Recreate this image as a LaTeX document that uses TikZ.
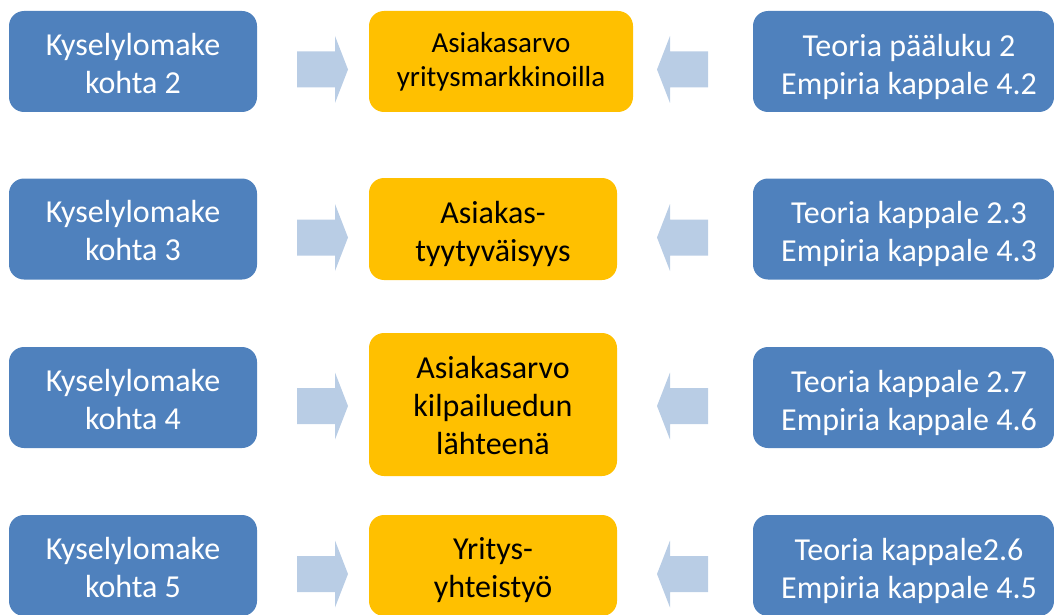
\documentclass[tikz,border=0pt]{standalone}
\usepackage{fontspec}
\setmainfont{Carlito}
\definecolor{boxblue}{HTML}{4F81BD}
\definecolor{boxgold}{HTML}{FFC000}
\definecolor{flowblue}{HTML}{B9CDE5}
\tikzset{
  boxbase/.style={rounded corners=15pt, inner sep=0pt},
  srcbox/.style={boxbase, fill=boxblue, minimum width=248pt, minimum height=101pt},
  refbox/.style={boxbase, fill=boxblue, minimum width=301pt, minimum height=101pt},
  topicbox/.style={boxbase, fill=boxgold},
  boxtext/.style={inner sep=0pt, align=center, font=\fontsize{32}{38}\selectfont},
  whitetext/.style={boxtext, text=white},
  blacktext/.style={boxtext, text=black},
  pics/flowright/.style={code={
    \fill[flowblue] (0,-18) -- (38,-18) -- (38,-33.5) -- (51,0)
      -- (38,33.5) -- (38,18) -- (0,18) -- cycle;}},
  pics/flowleft/.style={code={
    \fill[flowblue] (51,-18) -- (13,-18) -- (13,-33.5) -- (0,0)
      -- (13,33.5) -- (13,18) -- (51,18) -- cycle;}},
}
\begin{document}
\begin{tikzpicture}[x=1pt,y=-1pt]
\useasboundingbox (0,0) rectangle (1054,615);
\clip (0,0) rectangle (1054,615);

% questionnaire items
\node[srcbox] (q2) at (133,61.5) {};
\node[srcbox] (q3) at (133,229) {};
\node[srcbox] (q4) at (133,397.5) {};
\node[srcbox] (q5) at (133,565.5) {};
\node[whitetext] (q2t) at (133,63.5) {Kyselylomake\\kohta 2};
\node[whitetext] (q3t) at (133,231) {Kyselylomake\\kohta 3};
\node[whitetext] (q4t) at (133,399.5) {Kyselylomake\\kohta 4};
\node[whitetext] (q5t) at (133,567.5) {Kyselylomake\\kohta 5};

% topics
\node[topicbox, minimum width=264pt, minimum height=101pt] (t1) at (501,61.5) {};
\node[topicbox, minimum width=248pt, minimum height=102pt] (t2) at (493,229) {};
\node[topicbox, minimum width=248pt, minimum height=143pt] (t3) at (493,404.5) {};
\node[topicbox, minimum width=248pt, minimum height=101pt] (t4) at (493,565.5) {};
\node[blacktext, font=\fontsize{29}{34}\selectfont] (t1t) at (501,62)
  {Asiakasarvo\\yritysmarkkinoilla};
\node[blacktext] (t2t) at (493,234) {Asiakas-\\tyytyväisyys};
\node[blacktext] (t3t) at (493,405.5) {Asiakasarvo\\kilpailuedun\\lähteenä};
\node[blacktext] (t4t) at (493,570) {Yritys-\\yhteistyö};

% theory and empirical references
\node[refbox] (r2) at (903.5,61.5) {};
\node[refbox] (r3) at (903.5,229) {};
\node[refbox] (r4) at (903.5,397.5) {};
\node[refbox] (r5) at (903.5,565.5) {};
\node[whitetext] (r2t) at (909,66.5) {Teoria pääluku 2\\Empiria kappale 4.2};
\node[whitetext] (r3t) at (909,234) {Teoria kappale 2.3\\Empiria kappale 4.3};
\node[whitetext] (r4t) at (909,402.5) {Teoria kappale 2.7\\Empiria kappale 4.6};
\node[whitetext] (r5t) at (909,570.5) {Teoria kappale2.6\\Empiria kappale 4.5};

% block arrows towards the topics
\foreach \yc in {69.5,237.5,406,574} {
  \pic at (297,\yc) {flowright};
  \pic at (657,\yc) {flowleft};
}
\end{tikzpicture}
\end{document}
